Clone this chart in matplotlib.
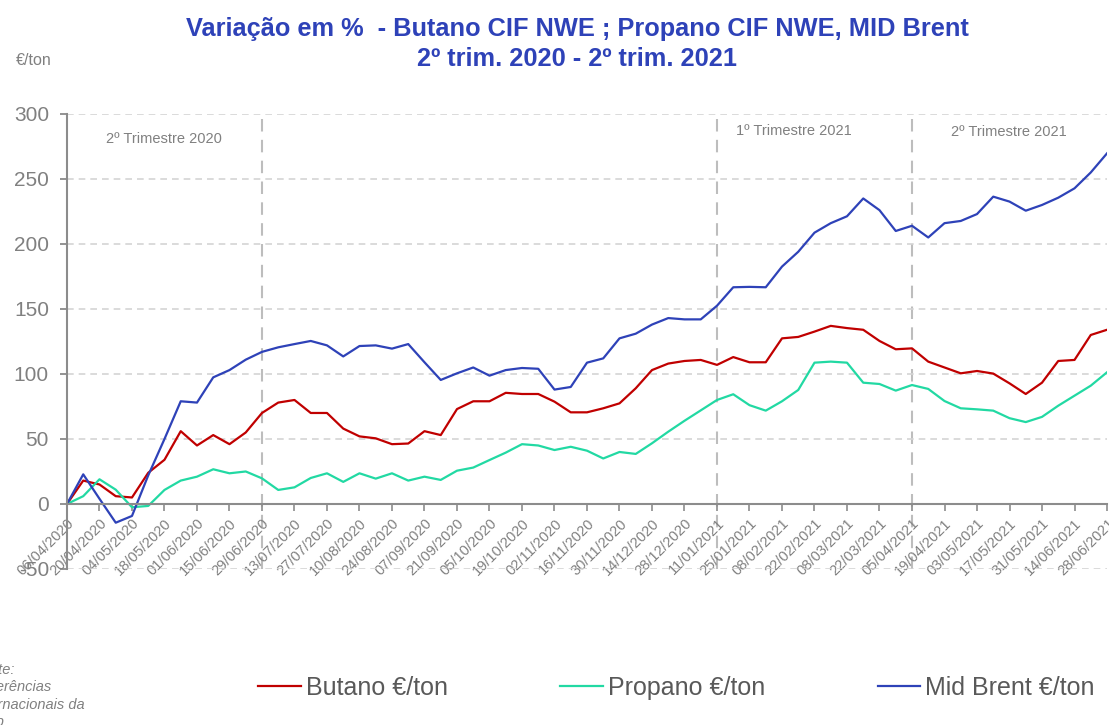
import matplotlib
matplotlib.use('Agg')
import numpy as np
import pandas as pd
import matplotlib.pyplot as plt

plt.rcParams['font.family'] = ['Liberation Sans', 'DejaVu Sans']
plt.rcParams['axes.unicode_minus'] = False

# weekly dates (Mondays) from 06/04/2020 to 28/06/2021
dates = pd.date_range('2020-04-06', '2021-06-28', freq='7D')

# % change since 06/04/2020
butano = [0, 18, 15, 6, 5, 24, 34, 56, 45, 53, 46, 55, 70, 78, 80, 70, 70,
          58, 52, 50.5, 46, 46.5, 56, 53, 73, 79, 79, 85.5, 84.6, 84.6, 78.7,
          70.5, 70.5, 73.6, 77.4, 89, 103, 108, 110, 110.8, 107, 113, 109, 109,
          127.4, 128.5, 132.6, 137, 135.3, 134, 125.4, 119, 119.7, 109.5, 105,
          100.5, 102.3, 100.3, 92.8, 84.6, 93.3, 110, 110.8, 130, 134]
propano = [0, 6, 19, 11, -2.5, -1.5, 10.8, 18, 21, 26.7, 23.6, 25, 19.7, 10.8,
           12.8, 20, 23.6, 17, 23.6, 19.5, 23.6, 18, 21, 18.5, 25.6, 28, 33.8,
           39.5, 46, 45, 41.5, 44, 41, 35, 40, 38.5, 46.7, 55.6, 64, 72, 80,
           84.4, 76, 71.8, 79, 87.7, 108.7, 109.5, 108.7, 93.3, 92.3, 87.2, 91.5,
           88.5, 79.2, 73.6, 72.8, 71.8, 66, 63, 67, 75.6, 83.3, 91, 101.3]
brent = [0, 22.8, 4, -14.4, -9.2, 22, 50, 79, 78, 97.4, 103, 111, 117, 120.5,
         123, 125.4, 122, 113.5, 121.5, 122, 119.5, 123, 109, 95.4, 100.5, 105,
         98.7, 103, 104.6, 104, 88, 90, 108.7, 112, 127.4, 131, 138, 143, 142,
         142, 152.5, 166.7, 167, 166.7, 182.6, 194, 208.7, 216, 221.3, 235, 226,
         210, 214, 205, 216, 217.7, 223, 236.4, 232.6, 225.6, 230, 235.6, 242.8,
         255, 269.7]

quarter_lines = ['2020-06-29', '2021-01-11', '2021-04-05']
quarter_labels = [('2º Trimestre 2020', '2020-04-23', 281),
                  ('1º Trimestre 2021', '2021-01-19', 287),
                  ('2º Trimestre 2021', '2021-04-22', 286)]

grey = '#808080'
fig = plt.figure(figsize=(11.09, 7.25), dpi=100)
ax = fig.add_axes([0.0604, 0.2152, 0.9378, 0.6276])

ax.plot(dates, butano, color='#C00000', lw=1.6, label='Butano €/ton')
ax.plot(dates, propano, color='#22D9A3', lw=1.6, label='Propano €/ton')
ax.plot(dates, brent, color='#2E42B8', lw=1.6, label='Mid Brent €/ton')

for d in quarter_lines:
    ax.axvline(pd.Timestamp(d), color='#bdbdbd', lw=1.5, ls=(0, (6, 4)), zorder=0)
for txt, d, y in quarter_labels:
    ax.text(pd.Timestamp(d), y, txt, color=grey, fontsize=10.5, va='center')

ax.set_xlim(dates[0], dates[-1])
ax.set_ylim(-50, 300)
ax.set_yticks(np.arange(-50, 301, 50))
ax.yaxis.grid(True, color='#d4d4d4', lw=1.2, ls=(0, (4, 3)))
ax.set_axisbelow(True)

ax.spines['top'].set_visible(False)
ax.spines['right'].set_visible(False)
ax.spines['bottom'].set_position(('data', 0))
for s in ('left', 'bottom'):
    ax.spines[s].set_color('#8c8c8c')
    ax.spines[s].set_linewidth(1.5)

tick_dates = dates[::2]
ax.set_xticks(tick_dates, [d.strftime('%d/%m/%Y') for d in tick_dates])
ax.tick_params(axis='y', labelsize=15, colors=grey, length=5, width=1.2, pad=8)
ax.tick_params(axis='x', colors='#8c8c8c', labelcolor=grey, labelsize=10.5,
               length=5, width=1.2, pad=4, labelrotation=45)

fig.text(0.5206, 0.939,
         'Variação em %  - Butano CIF NWE ; Propano CIF NWE, MID Brent\n2º trim. 2020 - 2º trim. 2021',
         ha='center', va='center', fontsize=18.3, fontweight='bold',
         color='#2E42B8', linespacing=1.3)
fig.text(0.014, 0.917, '€/ton', color=grey, fontsize=11.5, va='center')
fig.text(-0.024, 0.040, 'Fonte:\nReferências\nInternacionais da\nGalp',
         color=grey, fontsize=10.5, style='italic', va='center', linespacing=1.3)

leg = fig.legend(loc='center', bbox_to_anchor=(0.61, 0.051), ncol=3,
                 frameon=False, fontsize=18, handlelength=1.7,
                 columnspacing=4.5, handletextpad=0.2)
for t in leg.get_texts():
    t.set_color('#595959')

# anchor rotated date labels at their right end
fig.canvas.draw()
for lbl in ax.get_xticklabels():
    lbl.set_rotation(45)
    lbl.set_ha('right')
    lbl.set_va('top')
    lbl.set_rotation_mode('anchor')

fig.savefig('out.png', dpi=100)
